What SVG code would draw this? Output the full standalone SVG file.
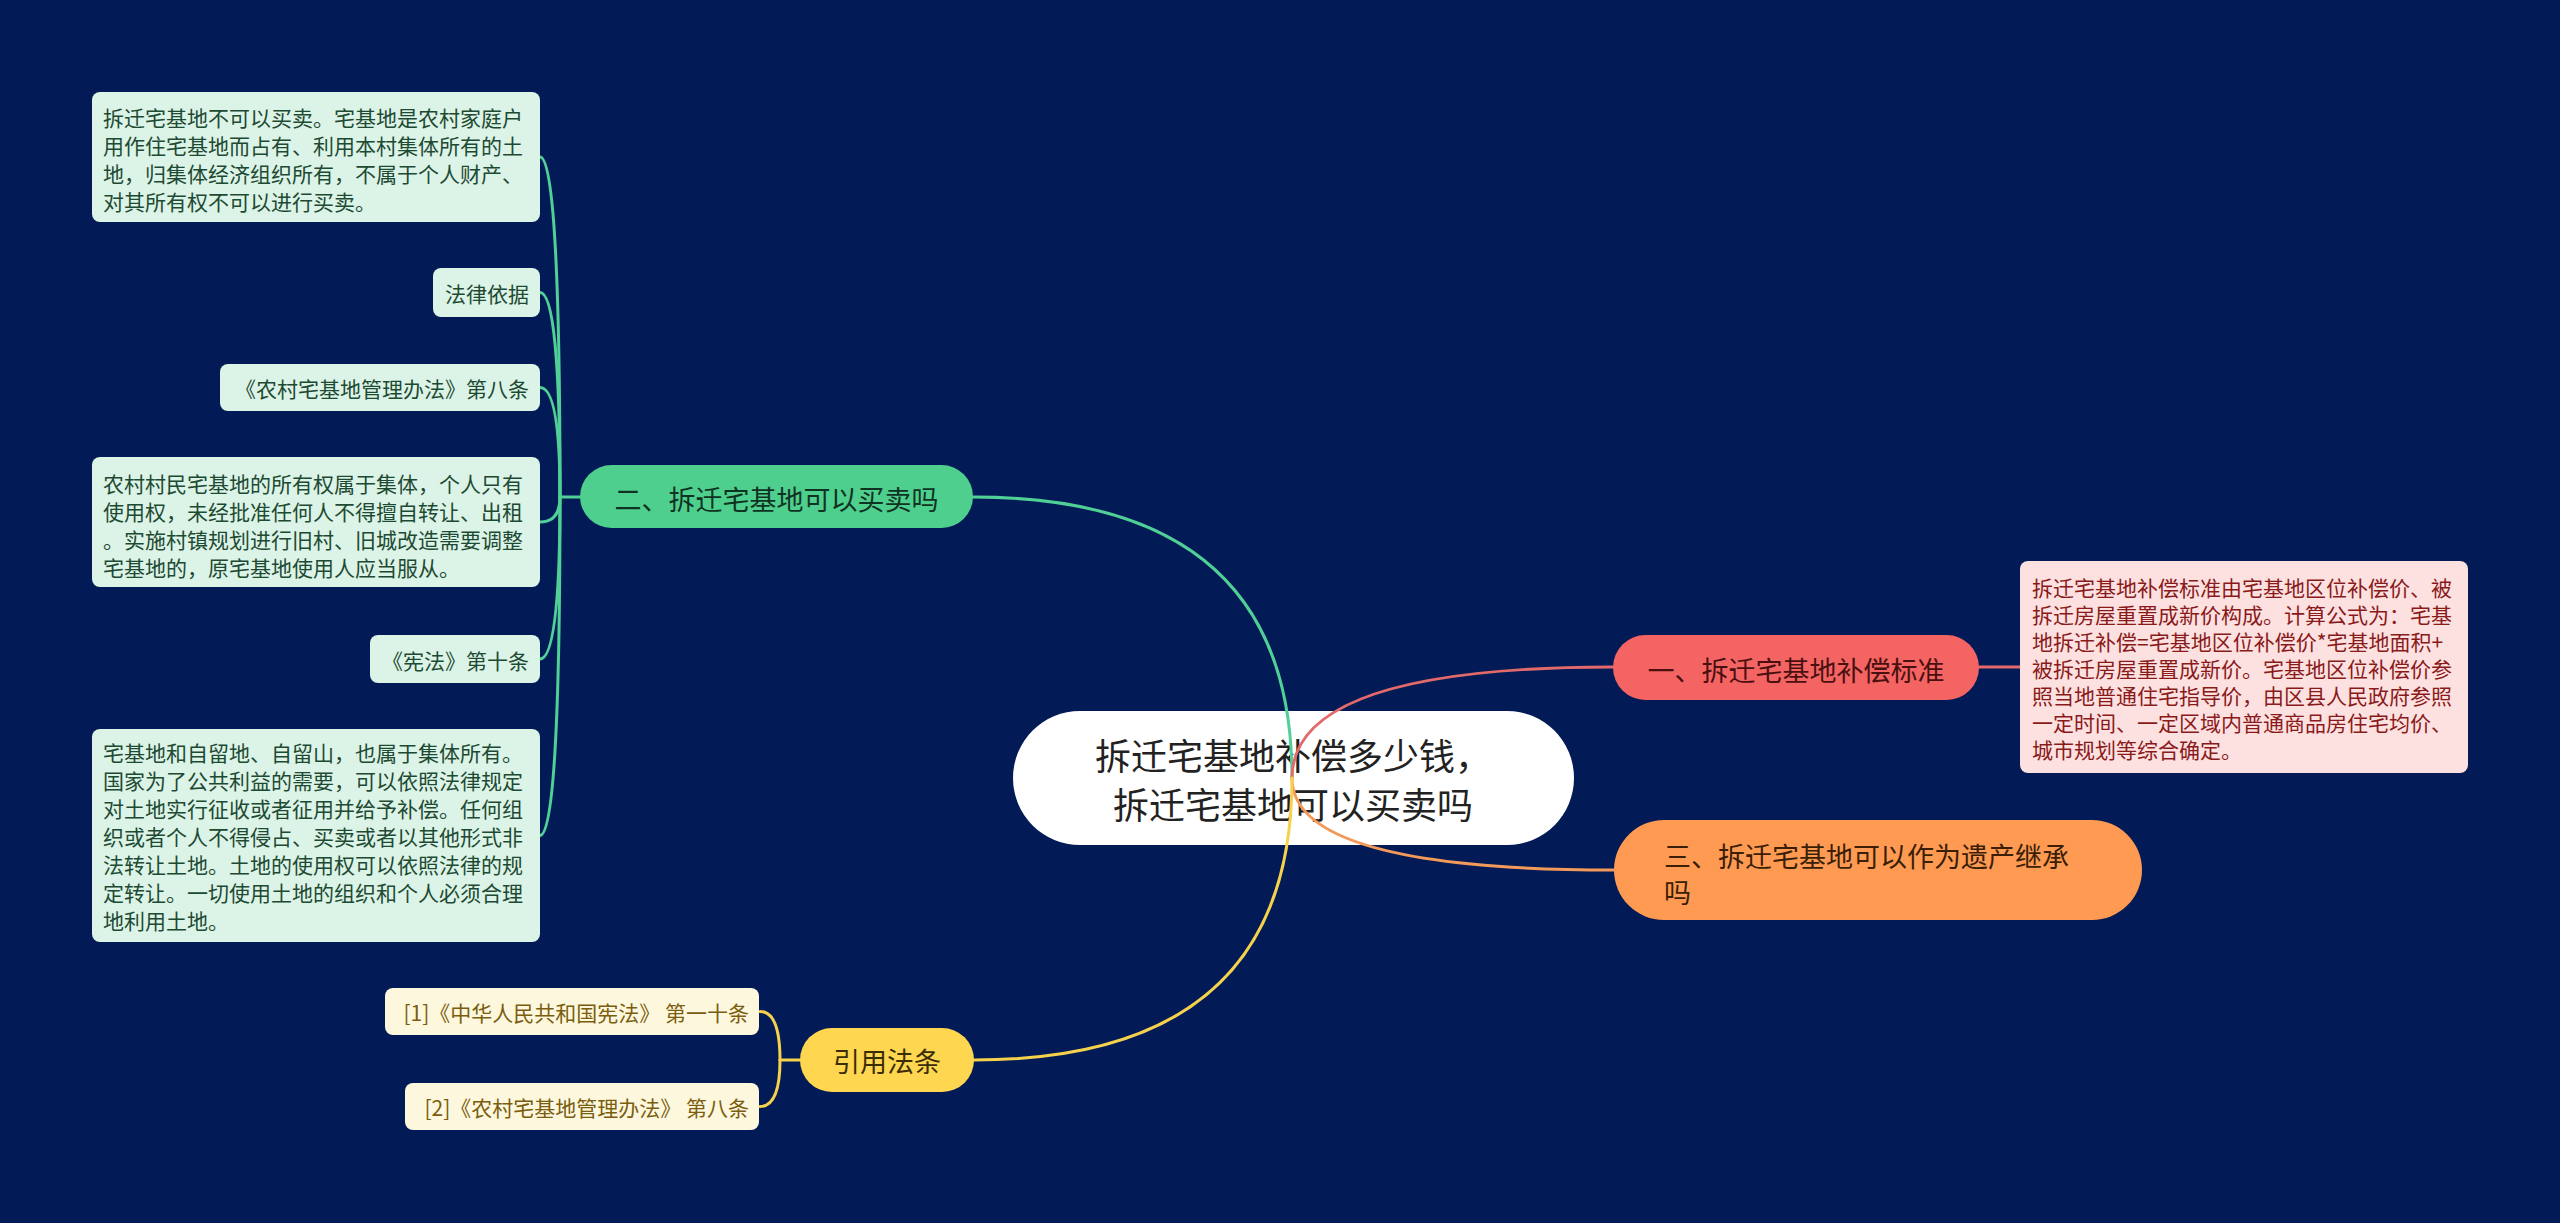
<svg xmlns="http://www.w3.org/2000/svg" width="2560" height="1223" viewBox="0 0 2560 1223">
<style>
text{font-family:"Noto Sans CJK SC","Noto Sans",sans-serif;dominant-baseline:central}
.root{font-size:36px;fill:#222222;text-anchor:middle}
.main{font-size:27px}
.leaf{font-size:21px}
.g-node{fill:#4fcf8e}
.g-text{fill:#0f3322}
.g-leaf{fill:#dcf3e7}
.g-ltext{fill:#1d4a32}
.r-node{fill:#f46463}
.r-text{fill:#4a1010}
.r-leaf{fill:#fde1e1}
.r-ltext{fill:#8a1a1a}
.o-node{fill:#ff9a52}
.o-text{fill:#3a1e08}
.y-node{fill:#ffd64f}
.y-text{fill:#3a2e08}
.y-leaf{fill:#fdf7dd}
.y-ltext{fill:#7a5d0e}
.c{fill:none;stroke-width:3;stroke-linecap:round}
.cg{stroke:#50cf97}
.cr{stroke:#e36a6a}
.co{stroke:#f39a5a}
.cy{stroke:#f6d24c}
</style>
<rect x="0" y="0" width="2560" height="1223" fill="#021b56"/>

<g id="root">
<rect x="1013" y="711" width="561" height="134" rx="67" fill="#ffffff"/>
<text class="root" x="1293" y="754">拆迁宅基地补偿多少钱，</text>
<text class="root" x="1293" y="803">拆迁宅基地可以买卖吗</text>
</g>

<g id="connectors">
<path class="c cg" d="M 973 497 Q 1292 497 1292 778"/>
<path class="c cr" d="M 1292 778 Q 1292 667 1613 667"/>
<path class="c co" d="M 1292 778 Q 1292 870 1614 870"/>
<path class="c cy" d="M 974 1060 Q 1292 1060 1292 778"/>
<path class="c cr" d="M 1979 667 L 2020 667"/>
<path class="c cg" d="M 580 497 L 560 497"/>
<path class="c cg" d="M 560 497 Q 560 157 540 157"/>
<path class="c cg" d="M 560 497 Q 560 292.5 540 292.5"/>
<path class="c cg" d="M 560 497 Q 560 387.5 540 387.5"/>
<path class="c cg" d="M 560 497 Q 560 522 540 522"/>
<path class="c cg" d="M 560 497 Q 560 659 540 659"/>
<path class="c cg" d="M 560 497 Q 560 835.5 540 835.5"/>
<path class="c cy" d="M 800 1060 L 780 1060"/>
<path class="c cy" d="M 780 1060 Q 780 1011.5 760 1011.5"/>
<path class="c cy" d="M 780 1060 Q 780 1106.5 760 1106.5"/>
</g>

<g id="node-2">
<rect class="g-node" x="580" y="465" width="393" height="63" rx="31.5"/>
<text class="main g-text" x="776.5" y="498" text-anchor="middle">二、拆迁宅基地可以买卖吗</text>
</g>

<g id="leaf-2-1">
<rect class="g-leaf" x="92" y="92" width="448" height="130" rx="8"/>
<text class="leaf g-ltext" x="103" y="117">拆迁宅基地不可以买卖。宅基地是农村家庭户</text>
<text class="leaf g-ltext" x="103" y="145">用作住宅基地而占有、利用本村集体所有的土</text>
<text class="leaf g-ltext" x="103" y="173">地，归集体经济组织所有，不属于个人财产、</text>
<text class="leaf g-ltext" x="103" y="201">对其所有权不可以进行买卖。</text>
</g>

<g id="leaf-2-2">
<rect class="g-leaf" x="433" y="268" width="107" height="49" rx="8"/>
<text class="leaf g-ltext" x="529" y="293" text-anchor="end">法律依据</text>
</g>

<g id="leaf-2-3">
<rect class="g-leaf" x="220" y="364" width="320" height="47" rx="8"/>
<text class="leaf g-ltext" x="529" y="388" text-anchor="end">《农村宅基地管理办法》第八条</text>
</g>

<g id="leaf-2-4">
<rect class="g-leaf" x="92" y="457" width="448" height="130" rx="8"/>
<text class="leaf g-ltext" x="103" y="483">农村村民宅基地的所有权属于集体，个人只有</text>
<text class="leaf g-ltext" x="103" y="511">使用权，未经批准任何人不得擅自转让、出租</text>
<text class="leaf g-ltext" x="103" y="539">。实施村镇规划进行旧村、旧城改造需要调整</text>
<text class="leaf g-ltext" x="103" y="567">宅基地的，原宅基地使用人应当服从。</text>
</g>

<g id="leaf-2-5">
<rect class="g-leaf" x="370" y="635" width="170" height="48" rx="8"/>
<text class="leaf g-ltext" x="529" y="660" text-anchor="end">《宪法》第十条</text>
</g>

<g id="leaf-2-6">
<rect class="g-leaf" x="92" y="729" width="448" height="213" rx="8"/>
<text class="leaf g-ltext" x="103" y="752">宅基地和自留地、自留山，也属于集体所有。</text>
<text class="leaf g-ltext" x="103" y="780">国家为了公共利益的需要，可以依照法律规定</text>
<text class="leaf g-ltext" x="103" y="808">对土地实行征收或者征用并给予补偿。任何组</text>
<text class="leaf g-ltext" x="103" y="836">织或者个人不得侵占、买卖或者以其他形式非</text>
<text class="leaf g-ltext" x="103" y="864">法转让土地。土地的使用权可以依照法律的规</text>
<text class="leaf g-ltext" x="103" y="892">定转让。一切使用土地的组织和个人必须合理</text>
<text class="leaf g-ltext" x="103" y="920">地利用土地。</text>
</g>

<g id="node-1">
<rect class="r-node" x="1613" y="635" width="366" height="65" rx="32.5"/>
<text class="main r-text" x="1796" y="669" text-anchor="middle">一、拆迁宅基地补偿标准</text>
</g>

<g id="leaf-1-1">
<rect class="r-leaf" x="2020" y="561" width="448" height="212" rx="8"/>
<text class="leaf r-ltext" x="2032" y="587">拆迁宅基地补偿标准由宅基地区位补偿价、被</text>
<text class="leaf r-ltext" x="2032" y="614">拆迁房屋重置成新价构成。计算公式为：宅基</text>
<text class="leaf r-ltext" x="2032" y="641">地拆迁补偿=宅基地区位补偿价*宅基地面积+</text>
<text class="leaf r-ltext" x="2032" y="668">被拆迁房屋重置成新价。宅基地区位补偿价参</text>
<text class="leaf r-ltext" x="2032" y="695">照当地普通住宅指导价，由区县人民政府参照</text>
<text class="leaf r-ltext" x="2032" y="722">一定时间、一定区域内普通商品房住宅均价、</text>
<text class="leaf r-ltext" x="2032" y="749">城市规划等综合确定。</text>
</g>

<g id="node-3">
<rect class="o-node" x="1614" y="820" width="528" height="100" rx="50"/>
<text class="main o-text" x="1664" y="855">三、拆迁宅基地可以作为遗产继承</text>
<text class="main o-text" x="1664" y="891">吗</text>
</g>

<g id="node-cite">
<rect class="y-node" x="800" y="1028" width="174" height="64" rx="32"/>
<text class="main y-text" x="887" y="1060" text-anchor="middle">引用法条</text>
</g>

<g id="leaf-cite-1">
<rect class="y-leaf" x="385" y="988" width="374" height="47" rx="8"/>
<text class="leaf y-ltext" x="749" y="1012" text-anchor="end">[1]《中华人民共和国宪法》 第一十条</text>
</g>

<g id="leaf-cite-2">
<rect class="y-leaf" x="405" y="1083" width="354" height="47" rx="8"/>
<text class="leaf y-ltext" x="749" y="1107" text-anchor="end">[2]《农村宅基地管理办法》 第八条</text>
</g>
</svg>
